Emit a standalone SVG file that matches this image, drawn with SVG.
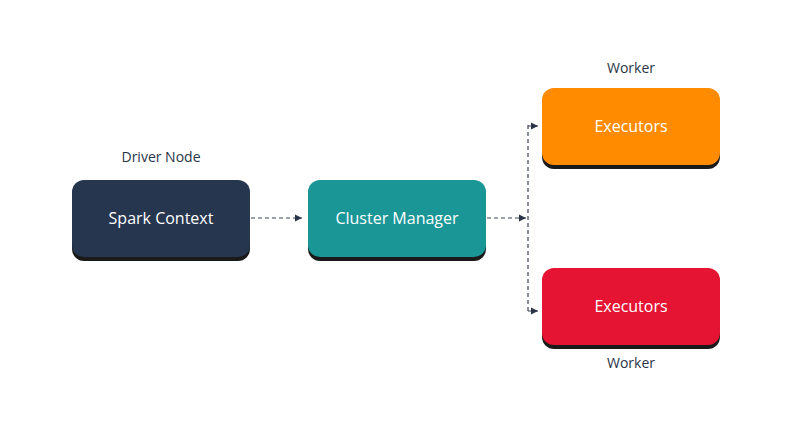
<svg xmlns="http://www.w3.org/2000/svg" width="792" height="429" viewBox="0 0 792 429">
<style>
.lbl{font-family:"Open Sans","Liberation Sans",sans-serif;font-size:14px;fill:#2a3447;text-anchor:middle}
.txt{font-family:"Open Sans","Liberation Sans",sans-serif;font-size:16px;fill:#fff;text-anchor:middle}
.sh{fill:#1a1a1a}
.c{stroke:#3a4458;stroke-width:1.2;stroke-dasharray:4 3;fill:none}
</style>
<defs><marker id="a" markerWidth="8" markerHeight="8" refX="7" refY="4" orient="auto" markerUnits="userSpaceOnUse"><path d="M0,0.5 L7,4 L0,7.5z" fill="#2a3447"/></marker></defs>
<rect width="792" height="429" fill="#fff"/>
<g id="driver"><text class="lbl" x="161" y="162">Driver Node</text><rect class="sh" x="72" y="183" width="178" height="78" rx="12"/><rect x="72" y="180" width="178" height="77" rx="12" fill="#26364f"/><text class="txt" x="161" y="224">Spark Context</text></g>
<g id="cluster"><rect class="sh" x="308" y="183" width="178" height="78" rx="12"/><rect x="308" y="180" width="178" height="77" rx="12" fill="#1a9696"/><text class="txt" x="397" y="224">Cluster Manager</text></g>
<g id="worker1"><text class="lbl" x="631" y="73">Worker</text><rect class="sh" x="542" y="91" width="178" height="78" rx="12"/><rect x="542" y="88" width="178" height="77" rx="12" fill="#ff8c00"/><text class="txt" x="631" y="132">Executors</text></g>
<g id="worker2"><rect class="sh" x="542" y="271" width="178" height="78" rx="12"/><rect x="542" y="268" width="178" height="77" rx="12" fill="#e41432"/><text class="txt" x="631" y="312">Executors</text><text class="lbl" x="631" y="368">Worker</text></g>
<g id="connectors">
<path class="c" d="M251,218 H302" marker-end="url(#a)"/>
<path class="c" d="M487,218 H526" marker-end="url(#a)"/>
<path class="c" d="M528,125 V311"/>
<path class="c" d="M528,126 H538" marker-end="url(#a)"/>
<path class="c" d="M528,311 H538" marker-end="url(#a)"/>
</g>
</svg>
